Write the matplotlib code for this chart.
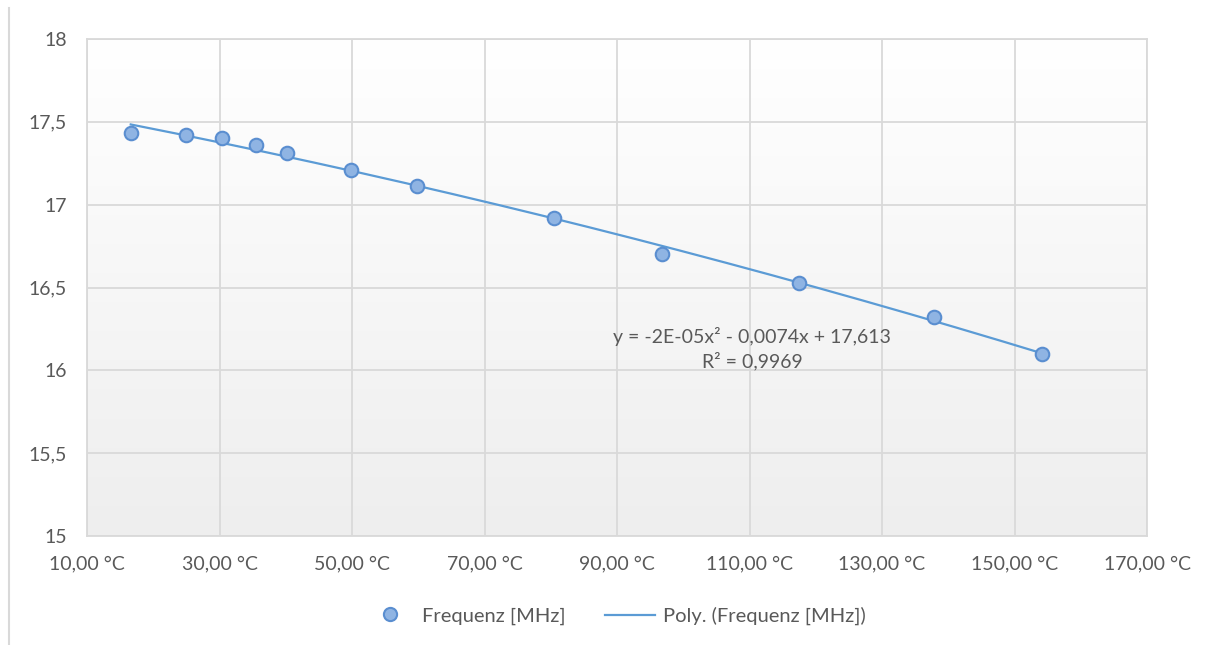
import matplotlib.pyplot as plt
import numpy as np
from matplotlib.colors import LinearSegmentedColormap
from matplotlib.lines import Line2D
from matplotlib.ticker import FuncFormatter, MultipleLocator

plt.rcParams["font.family"] = ["Lato", "DejaVu Sans"]

temperature = [16.6, 24.9, 30.4, 35.5, 40.2, 49.8, 59.8, 80.5, 96.8, 117.5, 137.8, 154.2]
frequency = [17.43, 17.42, 17.40, 17.36, 17.31, 17.21, 17.11, 16.92, 16.70, 16.53, 16.32, 16.10]
x_ticks = [10, 30, 50, 70, 90, 110, 130, 150, 170]
equation = "y = -2E-05x² - 0,0074x + 17,613\nR² = 0,9969"

text_color = "#595959"
grid_color = "#d9d9d9"
line_color = "#5b9bd5"
font_size = 14

fig = plt.figure(figsize=(12.14, 6.45), dpi=100)
ax = fig.add_axes([87 / 1214, 1 - 536 / 645, 1060 / 1214, 497 / 645])

# gradient background like the Excel plot area
gradient = np.linspace(1.0, 0.0, 256).reshape(-1, 1)
ax.imshow(gradient, extent=(0, 1, 0, 1), transform=ax.transAxes, aspect="auto",
          cmap=LinearSegmentedColormap.from_list("bg", ["#eeeeee", "#ffffff"]), zorder=0)

coeffs = np.polyfit(temperature, frequency, 2)
xs = np.linspace(min(temperature), max(temperature), 200)
ax.plot(xs, np.polyval(coeffs, xs), color=line_color, lw=1.6, zorder=3)
ax.scatter(temperature, frequency, s=95, color="#8fb4e3", edgecolor="#5a8ed0",
           linewidth=1.5, zorder=4)

ax.set_xlim(10, 170)
ax.set_ylim(15, 18)
ax.set_xticks(x_ticks)
ax.yaxis.set_major_locator(MultipleLocator(0.5))
ax.xaxis.set_major_formatter(FuncFormatter(lambda v, p: f"{v:.2f}".replace(".", ",") + " °C"))
ax.yaxis.set_major_formatter(FuncFormatter(lambda v, p: f"{v:g}".replace(".", ",")))
ax.grid(color=grid_color, lw=1.3, zorder=1)
ax.set_axisbelow(True)
for spine in ax.spines.values():
    spine.set_color(grid_color)
    spine.set_linewidth(1.3)
ax.tick_params(length=0, colors=text_color, labelsize=font_size)
ax.tick_params(axis="x", pad=14)
ax.tick_params(axis="y", pad=14.5)

ax.text(110.4, 16.13, equation, ha="center", va="center", fontsize=font_size,
        color=text_color, linespacing=1.35, zorder=5)

# two legends so each entry gets its own handle length, as in Excel
marker_handle = Line2D([], [], marker="o", ls="none", markersize=9.5, markerfacecolor="#8fb4e3",
                       markeredgecolor="#5a8ed0", markeredgewidth=1.5)
line_handle = Line2D([], [], color=line_color, lw=1.6)
legend_y = 1 - 616 / 645
fig.legend([marker_handle], ["Frequenz [MHz]"], loc="center left",
           bbox_to_anchor=(378 / 1214, legend_y), frameon=False, fontsize=14.5,
           labelcolor=text_color, handlelength=1.2, handletextpad=1.0,
           borderaxespad=0, borderpad=0)
fig.legend([line_handle], ["Poly. (Frequenz [MHz])"], loc="center left",
           bbox_to_anchor=(605 / 1214, legend_y), frameon=False, fontsize=14.5,
           labelcolor=text_color, handlelength=2.5, handletextpad=0.4,
           borderaxespad=0, borderpad=0)

fig.add_artist(Line2D([9 / 1214, 9 / 1214], [0, 1 - 8 / 645], color=grid_color, lw=1.5))

fig.savefig("out.png", dpi=100, facecolor="white")
